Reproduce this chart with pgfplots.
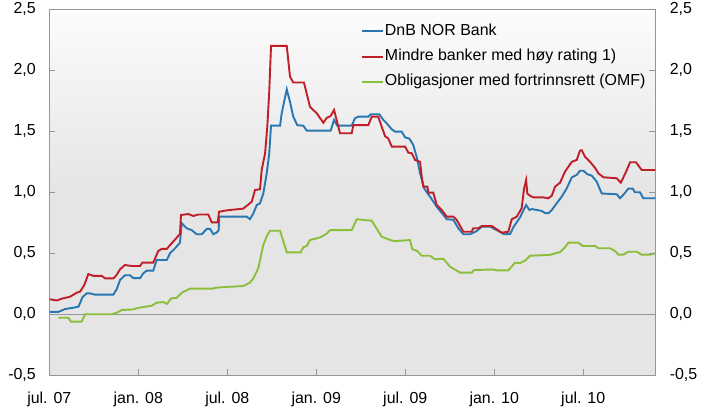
\documentclass[border=0pt]{standalone}
\usepackage{pgfplots}
\pgfplotsset{compat=1.18}
\usepackage{fontspec}
\setmainfont{Liberation Sans}
\definecolor{cblue}{RGB}{40,118,178}
\definecolor{cred}{RGB}{192,30,40}
\definecolor{cgreen}{RGB}{140,190,60}
\definecolor{axgray}{RGB}{150,150,150}
\definecolor{bgtop}{RGB}{252,252,252}
\definecolor{bggray}{RGB}{229,229,229}
\newcommand{\tfont}{\fontsize{16}{19}\selectfont}
\begin{document}
\begin{tikzpicture}
\useasboundingbox (-49.3bp,-37.7bp) rectangle (654.7bp,375.3bp);
\pgfplotsset{
  common/.style={
    scale only axis, width=606bp, height=366bp,
    xmin=0, xmax=40.86, ymin=-0.5, ymax=2.5,
    ytick={-0.5,0,0.5,1,1.5,2,2.5},
    tick align=inside, major tick length=6bp,
    tick style={draw=axgray, line width=1bp},
    every tick label/.append style={font=\tfont},
    /pgf/number format/.cd, fixed, fixed zerofill, precision=1, use comma, assume math mode=true,
  }
}
\begin{axis}[common,
  axis background/.style={shade, top color=bgtop, bottom color=bggray, middle color=bggray},
  axis line style={draw=axgray, line width=1.2bp},
  xtick={0,6,12,18,24,30,36},
  xticklabels={jul. 07, jan. 08, jul. 08, jan. 09, jul. 09, jan. 10, jul. 10},
  xtick pos=bottom, ytick pos=left,
  xticklabel style={yshift=-13bp},
  yticklabel style={xshift=-10bp},
  legend style={draw=none, fill=none, at={(0.514,0.961)}, anchor=north west,
    font=\tfont, inner sep=0pt, row sep=10.3bp,
    nodes={inner xsep=1bp, inner ysep=0bp, text height=11.5bp, text depth=3.5bp}},
  legend cell align=left,
  legend image code/.code={\draw[#1, line width=2bp] (0bp,0bp) -- (21bp,0bp);},
]
\addplot[axgray, line width=1.2bp, forget plot] coordinates {(0,0) (40.86,0)};
% DnB NOR Bank
\addplot[cblue, line width=1.9bp] coordinates {
(0.05,0.02)(0.61,0.02)(1.06,0.043)(1.62,0.054)(1.96,0.062)(2.07,0.09)(2.23,0.139)(2.52,0.172)(2.74,0.172)(3.08,0.161)
(4.32,0.161)(4.54,0.205)(4.77,0.281)(5.10,0.32)(5.44,0.32)(5.66,0.297)(6.12,0.297)(6.34,0.336)(6.57,0.358)(7.01,0.358)
(7.24,0.445)(7.92,0.445)(8.14,0.50)(8.48,0.541)(8.81,0.587)(8.93,0.746)(9.26,0.705)(9.60,0.69)(9.94,0.656)(10.28,0.656)
(10.61,0.70)(10.84,0.70)(11.06,0.656)(11.29,0.67)(11.42,0.69)(11.46,0.80)(13.31,0.80)(13.53,0.78)(13.76,0.828)(13.99,0.896)
(14.21,0.91)(14.43,0.99)(14.66,1.156)(14.83,1.32)(14.95,1.546)(15.56,1.546)(15.67,1.648)(16.01,1.844)(16.23,1.74)(16.45,1.62)
(16.72,1.55)(17.13,1.546)(17.36,1.505)(18.97,1.505)(19.20,1.593)(19.42,1.546)(20.39,1.546)(20.61,1.607)(20.84,1.62)(21.51,1.62)
(21.67,1.64)(22.25,1.64)(22.52,1.593)(22.75,1.566)(23.09,1.516)(23.31,1.497)(23.76,1.497)(23.99,1.45)(24.28,1.44)(24.54,1.388)
(24.77,1.29)(25.0,1.156)(25.27,1.033)(25.67,0.964)(26.12,0.882)(26.57,0.814)(26.80,0.779)(27.24,0.775)(27.58,0.705)(27.92,0.656)
(28.37,0.656)(28.82,0.683)(29.16,0.718)(29.72,0.718)(30.17,0.69)(30.66,0.656)(31.07,0.658)(31.29,0.713)(31.74,0.795)(32.15,0.896)
(32.37,0.855)(32.53,0.863)(32.87,0.855)(33.20,0.847)(33.43,0.83)(33.65,0.828)(33.88,0.855)(34.21,0.91)(34.55,0.964)(34.89,1.033)
(35.23,1.123)(35.56,1.142)(35.78,1.177)(36.01,1.177)(36.28,1.148)(36.57,1.137)(36.91,1.087)(37.25,0.99)(38.26,0.984)(38.48,0.951)
(38.71,0.98)(39.04,1.03)(39.34,1.03)(39.49,1.0)(39.83,1.0)(40.05,0.951)(40.84,0.951)
};
\addlegendentry{DnB NOR Bank}
% Mindre banker
\addplot[cred, line width=1.9bp] coordinates {
(0.05,0.123)(0.50,0.113)(0.84,0.128)(1.40,0.144)(1.85,0.177)(2.07,0.185)(2.36,0.24)(2.63,0.33)(2.97,0.315)(3.53,0.315)
(3.76,0.295)(4.32,0.295)(4.54,0.322)(4.77,0.369)(5.10,0.404)(5.56,0.396)(6.12,0.396)(6.27,0.423)(7.01,0.423)(7.35,0.52)
(7.58,0.536)(7.92,0.536)(8.25,0.582)(8.81,0.658)(8.88,0.814)(9.37,0.822)(9.71,0.806)(10.05,0.818)(10.72,0.818)(10.95,0.754)
(11.36,0.754)(11.44,0.84)(11.85,0.85)(12.18,0.855)(13.08,0.866)(13.42,0.90)(13.65,0.923)(13.87,1.019)(14.21,1.025)(14.32,1.183)
(14.55,1.32)(14.70,1.54)(14.83,1.826)(14.95,2.20)(16.01,2.20)(16.23,1.948)(16.45,1.90)(17.17,1.90)(17.58,1.70)(18.03,1.648)
(18.48,1.57)(18.70,1.61)(18.97,1.625)(19.20,1.675)(19.38,1.59)(19.60,1.484)(20.39,1.484)(20.50,1.55)(21.51,1.55)(21.74,1.62)
(22.18,1.62)(22.41,1.538)(22.64,1.46)(22.86,1.44)(23.09,1.374)(23.99,1.374)(24.21,1.325)(24.44,1.32)(24.66,1.265)(25.0,1.25)
(25.11,1.128)(25.22,1.046)(25.49,1.046)(25.56,0.997)(25.89,0.997)(26.12,0.896)(26.46,0.855)(26.80,0.80)(27.24,0.80)(27.47,0.773)
(27.92,0.677)(28.48,0.677)(28.59,0.705)(28.93,0.705)(29.16,0.724)(29.83,0.724)(30.17,0.697)(30.51,0.669)(30.95,0.677)(31.18,0.779)
(31.52,0.80)(31.85,0.869)(32.01,1.03)(32.15,1.10)(32.23,0.99)(32.41,0.972)(32.64,0.958)(33.31,0.958)(33.65,0.951)(33.88,0.972)
(34.10,1.046)(34.44,1.079)(34.77,1.169)(35.23,1.25)(35.56,1.265)(35.78,1.341)(35.90,1.345)(36.12,1.292)(36.46,1.25)(36.80,1.20)
(37.02,1.156)(37.36,1.123)(38.26,1.115)(38.53,1.079)(38.82,1.15)(39.16,1.246)(39.56,1.246)(39.94,1.183)(40.84,1.183)
};
\addlegendentry{Mindre banker med høy rating 1)}
% OMF
\addplot[cgreen, line width=1.9bp] coordinates {
(0.61,-0.028)(1.28,-0.028)(1.46,-0.06)(2.18,-0.06)(2.41,0.0)(4.21,0.0)(4.54,0.012)(4.88,0.035)(5.66,0.04)(5.89,0.05)
(6.45,0.062)(6.90,0.07)(7.24,0.095)(7.69,0.10)(7.94,0.085)(8.21,0.13)(8.59,0.135)(8.93,0.177)(9.49,0.21)(10.95,0.21)
(11.40,0.22)(13.08,0.232)(13.53,0.26)(13.76,0.295)(14.09,0.377)(14.43,0.568)(14.66,0.64)(14.88,0.685)(15.56,0.685)(16.01,0.508)
(16.95,0.508)(17.13,0.55)(17.36,0.56)(17.58,0.609)(18.25,0.63)(18.70,0.66)(18.93,0.69)(20.39,0.69)(20.73,0.779)(21.74,0.767)
(22.41,0.636)(22.97,0.609)(23.31,0.60)(24.32,0.609)(24.48,0.533)(24.80,0.52)(25.11,0.48)(25.67,0.48)(26.01,0.451)(26.57,0.455)
(27.02,0.39)(27.70,0.341)(28.48,0.341)(28.64,0.363)(29.92,0.367)(30.17,0.36)(30.95,0.36)(31.40,0.423)(31.74,0.42)(32.08,0.44)
(32.41,0.48)(33.76,0.487)(34.10,0.50)(34.44,0.51)(34.77,0.55)(35.0,0.587)(35.67,0.587)(35.97,0.56)(36.80,0.56)(37.02,0.541)
(37.81,0.541)(38.15,0.519)(38.37,0.489)(38.71,0.489)(39.04,0.513)(39.61,0.513)(39.94,0.489)(40.51,0.489)(40.84,0.5)
};
\addlegendentry{Obligasjoner med fortrinnsrett (OMF)}
\end{axis}
\begin{axis}[common,
  hide x axis,
  axis line style={draw=none},
  ytick pos=right, yticklabel pos=right,
  yticklabel style={xshift=11bp},
]
\addplot[draw=none, forget plot] coordinates {(0,0)};
\end{axis}
\end{tikzpicture}
\end{document}
